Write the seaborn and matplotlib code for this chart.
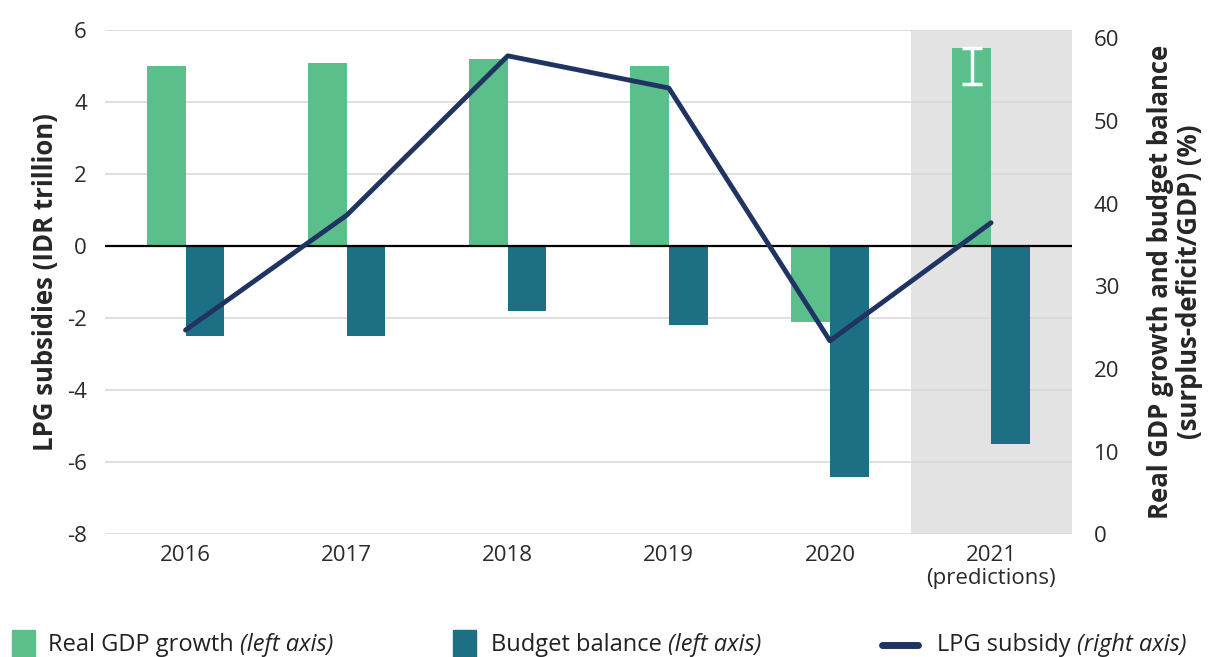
import numpy as np
import pandas as pd
import matplotlib.pyplot as plt
import seaborn as sns
from matplotlib.patches import Rectangle
from matplotlib.lines import Line2D

years = ['2016', '2017', '2018', '2019', '2020', '2021\n(predictions)']
gdp_growth = [5.0, 5.1, 5.2, 5.0, -2.1, 5.5]
budget_balance = [-2.5, -2.5, -1.8, -2.2, -6.4, -5.5]
lpg_subsidy = [24.7, 38.6, 57.9, 54.0, 23.4, 37.7]
gdp_2021_range = [4.5, 5.5]

green = '#5bbf8c'
teal = '#1d6f84'
navy = '#1f3461'

sns.set_style('white')
plt.rcParams['font.family'] = ['Open Sans', 'DejaVu Sans']

df = pd.DataFrame({
    'Year': years * 2,
    'Value': gdp_growth + budget_balance,
    'Series': ['Real GDP growth'] * len(years) + ['Budget balance'] * len(years),
})

fig = plt.figure(figsize=(12.15, 6.57), dpi=100)
ax = fig.add_axes([0.0864, 0.187, 0.7956, 0.767])

# shaded forecast year
ax.axvspan(4.5, 5.5, color='#e3e3e3', zorder=0, lw=0)

sns.barplot(data=df, x='Year', y='Value', hue='Series', palette=[green, teal],
            width=0.48, gap=0, ax=ax, legend=False, zorder=2, saturation=1, linewidth=0)

# error bar on the 2021 prediction
mid = (gdp_2021_range[0] + gdp_2021_range[1]) / 2
half = (gdp_2021_range[1] - gdp_2021_range[0]) / 2
ax.errorbar(5 - 0.12, mid, yerr=half, color='white', capsize=7, capthick=2.5,
            elinewidth=2.5, zorder=4)

ax.set_ylim(-8, 6)
ax.set_xlim(-0.5, 5.5)
ax.set_yticks(np.arange(-8, 7, 2))
ax.set_yticklabels([str(v) for v in range(-8, 7, 2)])
ax.grid(axis='y', color='#d9d9d9', lw=1.2, zorder=1)
ax.set_axisbelow(True)
ax.axhline(0, color='black', lw=1.6, zorder=3)
for s in ax.spines.values():
    s.set_visible(False)
ax.tick_params(axis='both', length=0, labelsize=16, labelcolor='#2a2a2a')
ax.tick_params(axis='x', pad=8)
ax.tick_params(axis='y', pad=13)
for lbl in ax.get_xticklabels():
    lbl.set_linespacing(1.1)
ax.set_xlabel('')
ax.set_ylabel('LPG subsidies (IDR trillion)', fontsize=18.5, fontweight='bold', labelpad=6)

ax2 = ax.twinx()
sns.lineplot(x=np.arange(len(years)), y=lpg_subsidy, color=navy, lw=3.5, ax=ax2, zorder=5)
ax2.set_ylim(0, 61)
ax2.set_yticks(range(0, 61, 10))
for s in ax2.spines.values():
    s.set_visible(False)
ax2.tick_params(axis='y', length=0, labelsize=16, labelcolor='#2a2a2a', pad=16)
ax2.set_ylabel('Real GDP growth and budget balance\n(surplus-deficit/GDP) (%)',
               fontsize=18.5, fontweight='bold', labelpad=20, linespacing=1.1)

# legend drawn by hand so the axis note can be italic
W, H = 1215, 657
yc = 1 - 645 / H
fig.add_artist(Rectangle((12 / W, 1 - 657 / H), 23 / W, 27 / H, color=green, transform=fig.transFigure))
fig.add_artist(Rectangle((453 / W, 1 - 657 / H), 23 / W, 27 / H, color=teal, transform=fig.transFigure))
fig.add_artist(Line2D([882 / W, 918 / W], [yc, yc], color=navy, lw=5, solid_capstyle='round',
                      transform=fig.transFigure))

fig.canvas.draw()
renderer = fig.canvas.get_renderer()
for x0, main, note in [(48, 'Real GDP growth ', '(left axis)'),
                       (491, 'Budget balance ', '(left axis)'),
                       (937, 'LPG subsidy ', '(right axis)')]:
    t = fig.text(x0 / W, yc, main, fontsize=17, va='center', color='#222222')
    bb = t.get_window_extent(renderer)
    fig.text(bb.x1 / W, yc, note, fontsize=17, va='center', style='italic', color='#222222')

fig.savefig('out.png', dpi=100)
